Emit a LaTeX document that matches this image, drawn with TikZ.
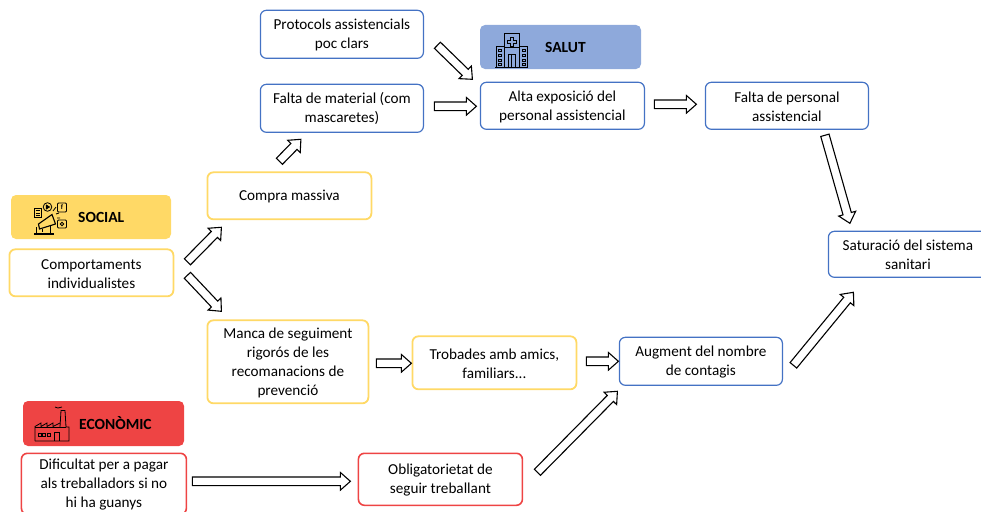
\documentclass[tikz,border=0pt]{standalone}
\usepackage{fontspec}
\setmainfont{Carlito}
\usetikzlibrary{calc}
\definecolor{cblue}{HTML}{4472C4}
\definecolor{cyel}{HTML}{FFD966}
\definecolor{cred}{HTML}{EE4444}
\definecolor{cbluef}{HTML}{8EA9DB}
\tikzset{
  box/.style={draw,rounded corners=6pt,line width=#1,align=center,anchor=north west,inner sep=0pt,outer sep=0pt,fill=white,font=\fontsize{15.2}{19}\selectfont},
  head/.style={rounded corners=5pt,anchor=north west,inner sep=0pt,outer sep=0pt},
  blk/.style={draw=black,fill=white,line width=1.1pt,line join=miter},
  icon/.style={draw=black,line width=0.8pt,fill=none},
  lab/.style={font=\fontsize{15.5}{17}\selectfont\bfseries,inner sep=0pt}
}
% \blk{from}{dx,dy}{to}{dx,dy}
\newcommand{\blk}[4]{%
  \path ($(#1)+(#2)$) coordinate (p) ($(#3)+(#4)$) coordinate (q);
  \path ($(q)!10pt!(p)$) coordinate (h);
  \draw[blk] ($(p)!4.3pt!90:(q)$) -- ($(h)!4.3pt!-90:(p)$) -- ($(h)!8.8pt!-90:(p)$) -- (q)
    -- ($(h)!8.8pt!90:(p)$) -- ($(h)!4.3pt!90:(p)$) -- ($(p)!4.3pt!-90:(q)$) -- cycle;
}
\newcommand{\bx}[8]{% name, x1,y1,x2,y2, colour, width, text
  \node[box=#7,draw=#6,minimum width=#4pt-#2pt,minimum height=#5pt-#3pt] (#1) at (#2+0.4,#3+0.3) {\rule{0pt}{12pt}#8};
}
\begin{document}
\begin{tikzpicture}[x=1pt,y=-1pt]
\useasboundingbox (0,0) rectangle (981,511);
% headers
\node[head,fill=cbluef,minimum width=161pt,minimum height=44pt] (hsalut) at (480,25) {};
\node[head,fill=cyel,minimum width=160pt,minimum height=44pt] (hsocial) at (11,195) {};
\node[head,fill=cred,minimum width=161pt,minimum height=45pt] (hecon) at (23,401) {};
\node[lab,anchor=west] (lsalut) at (545,47.5) {SALUT};
\node[lab,anchor=west] (lsocial) at (78,217.5) {SOCIAL};
\node[lab,anchor=west] (lecon) at (79,423.5) {ECONÒMIC};
% boxes
\bx{prot}{260}{10}{423}{58}{cblue}{1.2pt}{Protocols assistencials\\poc clars}
\bx{mat}{260}{84}{423}{132}{cblue}{1.2pt}{Falta de material (com\\mascaretes)}
\bx{alta}{480}{82}{644}{129}{cblue}{1.2pt}{Alta exposició del\\personal assistencial}
\bx{fper}{705}{82}{868}{129}{cblue}{1.2pt}{Falta de personal\\assistencial}
\bx{sat}{828}{231}{987}{277}{cblue}{1.2pt}{Saturació del sistema\\sanitari}
\bx{comp}{207}{172}{371}{219}{cyel}{1.8pt}{Compra massiva}
\bx{indiv}{9}{249}{173}{296}{cyel}{1.8pt}{Comportaments\\individualistes}
\bx{manca}{207}{320}{368}{403}{cyel}{1.8pt}{Manca de seguiment\\rigorós de les\\recomanacions de\\prevenció}
\bx{trob}{412}{336}{576}{389}{cyel}{1.8pt}{Trobades amb amics,\\familiars...}
\bx{aug}{619}{337}{782}{385}{cblue}{1.2pt}{Augment del nombre\\de contagis}
\bx{dif}{21}{453}{186}{514}{cred}{1.6pt}{Dificultat per a pagar\\als treballadors si no\\hi ha guanys}
\bx{obl}{358}{453}{522}{505}{cred}{1.6pt}{Obligatorietat de\\seguir treballant}
% block arrows
\blk{prot.south east}{14,-13}{alta.north west}{-8,-3}
\blk{mat.east}{11,-2}{alta.west}{-4,0.5}
\blk{comp.north}{-10,-11}{mat.south}{-41,7}
\blk{alta.east}{10,-1.5}{fper.west}{-9,-1.5}
\blk{fper.south}{38,6}{sat.north}{-58,-8}
\blk{indiv.east}{14,-11}{comp.south west}{14,8}
\blk{indiv.east}{14,2.5}{manca.north west}{14,-9}
\blk{manca.east}{8,1.5}{trob.west}{-1,0.5}
\blk{trob.east}{10,-1.5}{aug.west}{-1,0}
\blk{obl.east}{15,-7}{aug.south west}{-2,6}
\blk{dif.east}{6,-2.5}{obl.west}{-8,2}
\blk{aug.east}{11,4}{sat.south west}{25,15}
% hospital icon
\begin{scope}[icon]
 \draw (495,67) -- (528,67);
 \draw (496,67) -- (496,46) -- (504,46) (527,67) -- (527,46) -- (519,46);
 \draw (504,67) -- (504,33.5) -- (519,33.5) -- (519,67);
 \draw (508,67) -- (508,54) -- (515.5,54) -- (515.5,67) (511.7,54) -- (511.7,67);
 \draw (510,37) -- (513,37) -- (513,40) -- (516,40) -- (516,43) -- (513,43) -- (513,46) -- (510,46) -- (510,43) -- (507,43) -- (507,40) -- (510,40) -- cycle;
 \foreach \y in {49,54,59,63}{\draw (498,\y) rectangle (501.5,\y+2.5); \draw (522,\y) rectangle (525.5,\y+2.5);}
 \draw (504,47.5) -- (519,47.5);
\end{scope}
% factory icon
\begin{scope}[icon]
 \draw (35,441) -- (69,441) -- (69,427) -- (66,427) -- (65,410.5) -- (61,410.5) -- (60,427);
 \draw (35,441) -- (35,426.5) -- (41,423) -- (41,426.5) -- (47,423) -- (47,426.5) -- (53,423) -- (53,426.5) -- (60,423);
 \draw (35,427) -- (66,427);
 \draw (54,441) -- (54,432) -- (59,432) -- (59,441);
 \foreach \x in {38,42.5,47}{\draw (\x,433) rectangle (\x+3,436);}
 \draw (55,407) -- (58,408) -- (62,407);
\end{scope}
% social icon
\begin{scope}[icon]
 \draw (34,208) rectangle (41,217);
 \draw (35.5,210.5) -- (39.5,210.5) (35.5,213) -- (39.5,213) (35.5,215) -- (39.5,215);
 \draw (47.5,207) circle (4.3);
 \draw[fill=black] (46.2,205) -- (46.2,209) -- (49.5,207) -- cycle;
 \draw[rounded corners=1pt] (57.5,203) rectangle (66.5,212);
 \node[font=\fontsize{7}{7}\selectfont\bfseries,inner sep=0pt] (fglyph) at (62,207.5) {f};
 \draw[rounded corners=1pt] (57.5,220) rectangle (66.5,228);
 \draw (62,224) circle (1.8);
 \draw[fill=cyel,line width=1.1pt] (38.5,224) -- (52,214.5) -- (55.5,224) -- (39.5,229) -- cycle;
 \draw (42,229) -- (42,232) (50,226) -- (50,234) (36,227) -- (36,234);
 \draw (53,211) -- (56,207) (56,214) -- (59,213) (57,218) -- (60,218);
 \draw[line width=1.2pt] (34,234) -- (54,234);
\end{scope}
\end{tikzpicture}
\end{document}
